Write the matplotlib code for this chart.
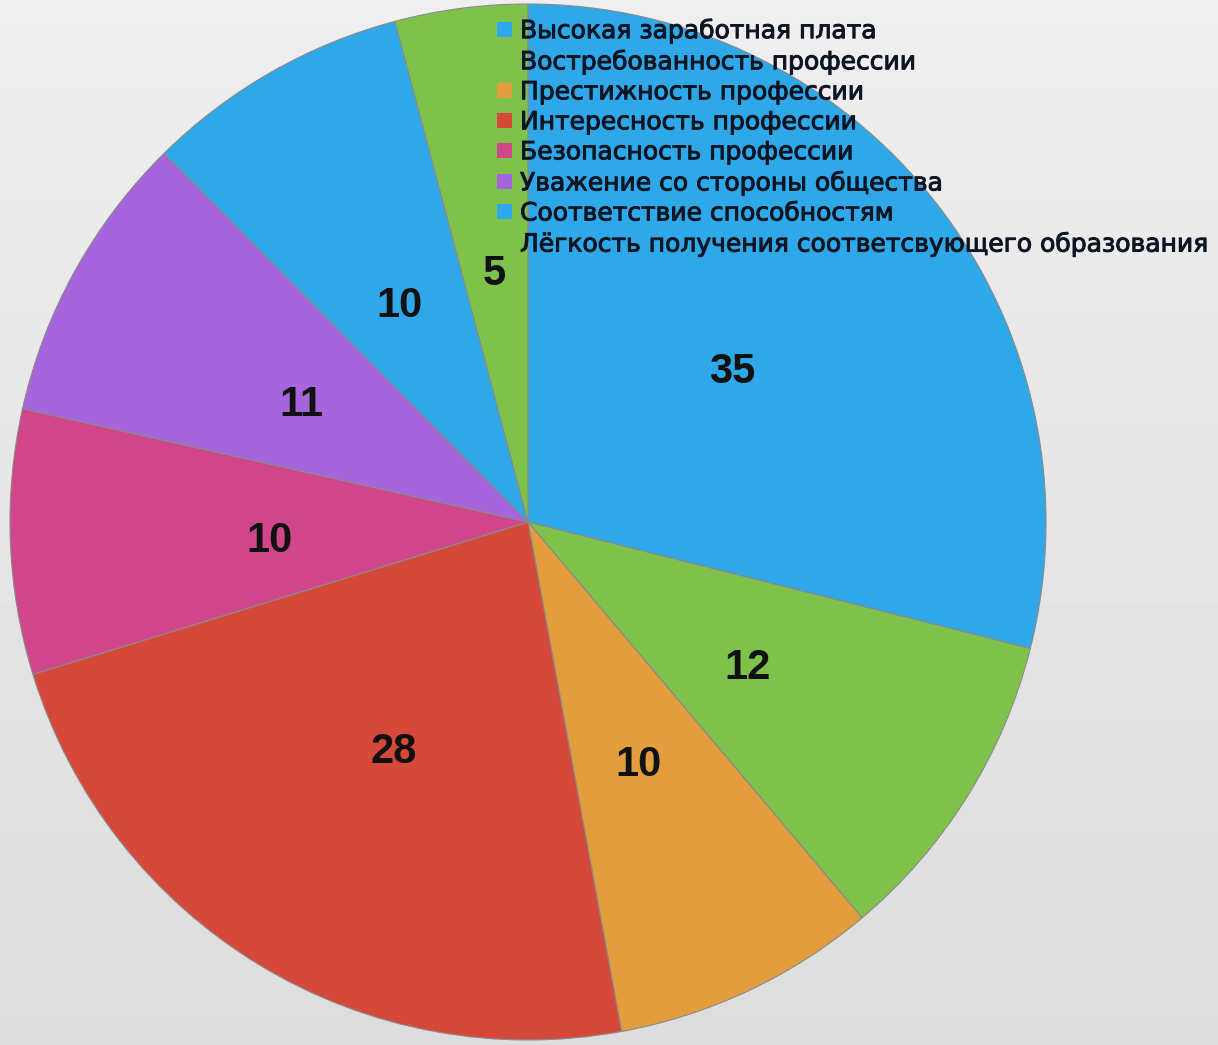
import numpy as np
import matplotlib
matplotlib.use("Agg")
import matplotlib.pyplot as plt
import matplotlib.patheffects as pe

labels = [
    "Высокая заработная плата",
    "Востребованность профессии",
    "Престижность профессии",
    "Интересность профессии",
    "Безопасность профессии",
    "Уважение со стороны общества",
    "Соответствие способностям",
    "Лёгкость получения соответсвующего образования",
]
values = [35, 12, 10, 28, 10, 11, 10, 5]
colors = ["#2ea8e8", "#7fc24b", "#e39d3d", "#d6493a",
          "#d1468a", "#a664dd", "#2ea8e8", "#7fc24b"]

W, H = 1218, 1045
fig = plt.figure(figsize=(W / 100, H / 100), dpi=100)

# light gray background gradient
bg = fig.add_axes([0, 0, 1, 1])
grad = np.linspace(0.935, 0.865, 256).reshape(-1, 1)
bg.imshow(grad, cmap="gray", vmin=0, vmax=1, aspect="auto", extent=[0, 1, 0, 1])
bg.set_axis_off()

# pie: centre (528, 522), radius 518 px
r = 518
ax = fig.add_axes([(528 - r) / W, (H - 522 - r) / H, 2 * r / W, 2 * r / H])
wedges, texts = ax.pie(
    values,
    colors=colors,
    startangle=90,
    counterclock=False,
    labels=[str(v) for v in values],
    labeldistance=0.5,
    wedgeprops=dict(edgecolor="#8a8a8a", linewidth=0.8),
    textprops=dict(fontsize=30, fontweight="bold", family="Liberation Sans",
                   color="#111111", ha="center", va="center"),
)
# labels sit a bit lower in the original
for t in texts:
    x, y = t.get_position()
    t.set_position((x, y - 9 / r))
ax.set_xlim(-1, 1)
ax.set_ylim(-1, 1)
ax.set_aspect("equal")
ax.set_axis_off()

leg = fig.legend(
    wedges, labels,
    loc="upper left",
    bbox_to_anchor=(497 / W, 1 - 18 / H),
    frameon=False,
    borderpad=0,
    borderaxespad=0,
    labelspacing=0.24,
    handlelength=0.6,
    handleheight=0.52,
    handletextpad=0.32,
    prop=dict(family="DejaVu Sans", size=18),
)
for t in leg.get_texts():
    t.set_color("#0d1522")
    # slightly heavier strokes, like the original
    t.set_path_effects([pe.withStroke(linewidth=0.7, foreground="#0d1522")])
for h in leg.legend_handles:
    h.set_edgecolor("none")

fig.savefig("out.png", dpi=100)
